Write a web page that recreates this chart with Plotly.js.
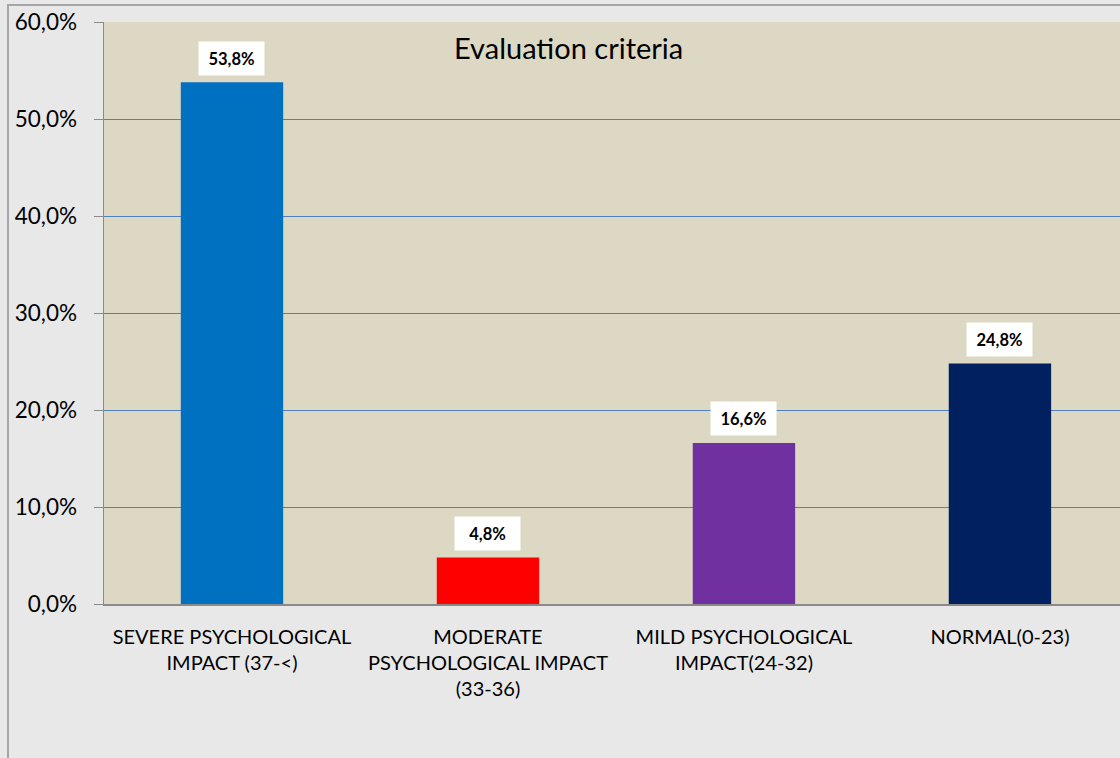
<!DOCTYPE html>
<html>
<head>
<meta charset="utf-8">
<script src="https://cdn.plot.ly/plotly-3.0.1.min.js"></script>
<style>
  html, body { margin: 0; padding: 0; background: #e8e8e8; }
  #wrap { position: relative; width: 1120px; height: 758px; overflow: hidden; }
  #chart { position: absolute; left: 0; top: 0; width: 1120px; height: 758px; }
  #frame { position: absolute; left: 7px; top: 4px; width: 1120px; height: 760px;
           border-left: 2px solid #a6a6a6; border-top: 2px solid #a6a6a6; pointer-events: none; }
</style>
</head>
<body>
<div id="wrap">
  <div id="chart"></div>
  <div id="frame"></div>
</div>
<script>
const categories = [
  "SEVERE PSYCHOLOGICAL<br>IMPACT (37-&lt;)",
  "MODERATE<br>PSYCHOLOGICAL IMPACT<br>(33-36)",
  "MILD PSYCHOLOGICAL<br>IMPACT(24-32)",
  "NORMAL(0-23)"
];
const values = [53.8, 4.8, 16.6, 24.8];
const barColors = ["#0070C0", "#FF0000", "#7030A0", "#002060"];
const yTicks = [0, 10, 20, 30, 40, 50, 60];
const chartTitle = "Evaluation criteria";

const fontFam = "Lato, 'Noto Sans', sans-serif";
const fmt = v => v.toFixed(1).replace(".", ",") + "%";

const trace = {
  type: "bar",
  x: [0, 1, 2, 3],
  y: values,
  width: 0.4,
  marker: { color: barColors, line: { width: 0 } },
  hoverinfo: "none"
};

const labelAnns = values.map((v, i) => ({
  x: i, y: v, xref: "x", yref: "y",
  text: "<b>" + fmt(v) + "</b>",
  showarrow: false,
  yshift: 24,
  bgcolor: "#ffffff",
  width: 63, height: 31,
  font: { family: fontFam, size: 16.5, color: "#000000" }
}));

const layout = {
  width: 1120, height: 758,
  margin: { l: 104, r: 0, t: 22, b: 154, pad: 0 },
  paper_bgcolor: "rgba(0,0,0,0)",
  plot_bgcolor: "#DDD8C3",
  showlegend: false,
  font: { family: fontFam, color: "#000000" },
  xaxis: {
    range: [-0.5, 3.469],
    tickmode: "array",
    tickvals: [0, 1, 2, 3],
    ticktext: categories,
    showgrid: false,
    zeroline: false,
    showline: true, linecolor: "#8a8a8a", linewidth: 1.5,
    ticks: "",
    tickfont: { family: fontFam, size: 20, color: "#000000" },
    ticklabelstandoff: 14,
    fixedrange: true
  },
  yaxis: {
    range: [0, 60],
    tickmode: "array",
    tickvals: yTicks,
    ticktext: yTicks.map(fmt),
    showgrid: true, gridcolor: "#4F81BD", gridwidth: 1,
    zeroline: false,
    showline: true, linecolor: "#8a8a8a", linewidth: 1.5,
    ticks: "outside", ticklen: 9, tickcolor: "#8a8a8a", tickwidth: 1,
    tickfont: { family: fontFam, size: 22.5, color: "#000000" },
    ticklabelstandoff: 12,
    fixedrange: true
  },
  shapes: [0.5, 1.5, 2.5, -0.5].map(b => ({
    type: "line", xref: "x", yref: "y",
    x0: b, x1: b, y0: 0, y1: -0.75,
    line: { color: "#8a8a8a", width: 1 }
  })),
  annotations: labelAnns.concat([{
    xref: "paper", yref: "paper",
    x: 0.457, y: 0.957, yanchor: "middle", xanchor: "center",
    text: chartTitle, showarrow: false,
    font: { family: fontFam, size: 29, color: "#000000" }
  }])
};

Plotly.newPlot("chart", [trace], layout, { displayModeBar: false, staticPlot: true });
</script>
</body>
</html>
